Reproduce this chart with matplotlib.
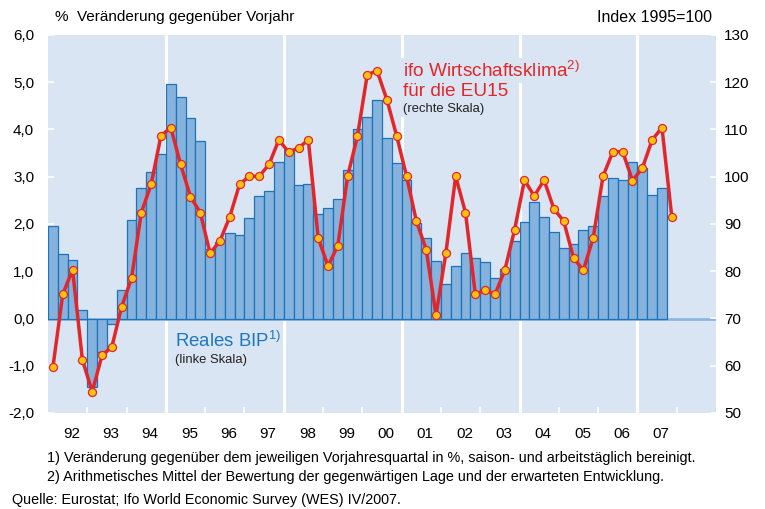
import numpy as np
import matplotlib
matplotlib.use("Agg")
import matplotlib.pyplot as plt

plt.rcParams['font.family'] = ['Liberation Sans', 'DejaVu Sans']
plt.rcParams['mathtext.fontset'] = 'custom'
plt.rcParams['mathtext.rm'] = 'Liberation Sans'

# ---- data (quarterly, from 1992 Q1) ----
years = ['92', '93', '94', '95', '96', '97', '98', '99',
         '00', '01', '02', '03', '04', '05', '06', '07']

# real GDP, % change vs. same quarter of previous year (left scale), 1992Q1..2007Q3
bip = [1.95, 1.37, 1.23, 0.19,
       -1.45, -0.71, -0.11, 0.60,
       2.09, 2.77, 3.10, 3.48,
       4.97, 4.68, 4.24, 3.76,
       1.47, 1.62, 1.80, 1.76,
       2.12, 2.60, 2.69, 3.32,
       3.58, 2.83, 2.85, 2.22,
       2.33, 2.53, 3.14, 4.02,
       4.27, 4.63, 3.82, 3.29,
       2.94, 2.02, 1.71, 1.21,
       0.73, 1.11, 1.38, 1.28,
       1.20, 0.85, 1.04, 1.63,
       2.05, 2.47, 2.15, 1.83,
       1.49, 1.58, 1.87, 1.95,
       2.59, 2.98, 2.93, 3.32,
       3.19, 2.62, 2.77]

# ifo economic climate EU15, index 1995=100 (right scale), 1992Q1..2007Q4
ifo = [59.7, 75.1, 80.3, 61.3,
       54.5, 62.2, 64.0, 72.5,
       78.5, 92.4, 98.4, 108.7,
       110.4, 102.6, 95.8, 92.4,
       83.8, 86.4, 91.5, 98.4,
       100.1, 100.1, 102.6, 107.8,
       105.2, 106.1, 107.8, 87.1,
       81.1, 85.4, 100.1, 108.6,
       121.6, 122.4, 116.3, 108.6,
       100.1, 90.6, 84.6, 70.7,
       83.8, 100.1, 92.4, 75.1,
       76.0, 75.1, 80.2, 88.8,
       99.3, 95.9, 99.3, 93.2,
       90.6, 82.8, 80.2, 87.1,
       100.1, 105.3, 105.3, 99.2,
       101.8, 107.8, 110.4, 91.5]

left_ticks = [-2, -1, 0, 1, 2, 3, 4, 5, 6]
right_ticks = [50, 60, 70, 80, 90, 100, 110, 120, 130]

# ---- colours ----
bg = '#dae5f3'
bar_fill = '#86b3de'
bar_edge = '#1b73ba'
red = '#e2262a'
yellow = '#ffc20e'
blue_txt = '#1b78c0'

W, H = 765, 509
fig = plt.figure(figsize=(W / 100, H / 100), dpi=100)
x0, x1, y0, y1 = 48, 716, 35, 413
ax = fig.add_axes([x0 / W, 1 - y1 / H, (x1 - x0) / W, (y1 - y0) / H])
ax.set_facecolor(bg)
for s in ax.spines.values():
    s.set_visible(False)

n_q = 17 * 4
ax.set_xlim(0, n_q)
ax.set_ylim(-2, 6)

# white separator lines every three years
for k in range(12, n_q, 12):
    ax.axvline(k, color='white', lw=2.2, zorder=1)

# zero line across the full width
ax.axhline(0, color='#8db6de', lw=2.0, zorder=2)

xb = np.arange(len(bip)) + 0.5
ax.bar(xb, bip, width=1.0, color=bar_fill, edgecolor=bar_edge, linewidth=0.9, zorder=3)

ax2 = ax.twinx()
for s in ax2.spines.values():
    s.set_visible(False)
ax2.set_ylim(50, 130)
xi = np.arange(len(ifo)) + 0.5
ax2.plot(xi, ifo, color=red, lw=2.5, marker='o', markersize=5.8,
         markerfacecolor=yellow, markeredgecolor=red, markeredgewidth=0.9, zorder=5)

# ticks
ax.set_yticks(left_ticks)
ax.set_yticklabels([f'{v:.1f}'.replace('.', ',') for v in left_ticks], fontsize=11)
ax.tick_params(axis='y', direction='in', length=4, width=1.2, color='white', pad=10)
ax2.set_yticks(right_ticks)
ax2.set_yticklabels([str(v) for v in right_ticks], fontsize=11)
ax2.tick_params(axis='y', direction='in', length=4, width=1.2, color='white', pad=6)

ax.set_xticks(np.arange(4, n_q, 4))
ax.set_xticklabels([])
ax.tick_params(axis='x', direction='in', length=4, width=1.2, color='white')
for i, lab in enumerate(years):
    ax.text(4 * i + 2.4, -2.44, lab, ha='center', va='center', fontsize=11)

# series labels (boxes hide the white separators like in the original)
tb = dict(facecolor=bg, edgecolor='none', pad=1.5)
lx = 36.1
ax.text(lx, 5.25, r'ifo Wirtschaftsklima$^{\mathrm{2)}}$', color=red, fontsize=13.7,
        va='center', ha='left', bbox=tb, zorder=6)
ax.text(lx, 4.8, 'für die EU15', color=red, fontsize=13.7,
        va='center', ha='left', bbox=tb, zorder=6)
ax.text(lx, 4.43, '(rechte Skala)', color='#222222', fontsize=9.4,
        va='center', ha='left', bbox=tb, zorder=6)
ax.text(12.9, -0.47, r'Reales BIP$^{\mathrm{1)}}$', color=blue_txt, fontsize=13.4,
        va='center', ha='left', zorder=6)
ax.text(12.9, -0.87, '(linke Skala)', color='#222222', fontsize=9.4,
        va='center', ha='left', zorder=6)

# header and footnotes
fig.text(55 / W, 1 - 17 / H, '%  Veränderung gegenüber Vorjahr', fontsize=11, va='center')
fig.text(712 / W, 1 - 17 / H, 'Index 1995=100', fontsize=11.5, va='center', ha='right')
fig.text(47 / W, 1 - 458 / H,
         '1) Veränderung gegenüber dem jeweiligen Vorjahresquartal in %, saison- und arbeitstäglich bereinigt.',
         fontsize=10.4, va='center')
fig.text(47 / W, 1 - 477 / H,
         '2) Arithmetisches Mittel der Bewertung der gegenwärtigen Lage und der erwarteten Entwicklung.',
         fontsize=10.4, va='center')
fig.text(12 / W, 1 - 500 / H, 'Quelle: Eurostat; Ifo World Economic Survey (WES) IV/2007.',
         fontsize=10.4, va='center')

fig.savefig('out.png', dpi=100)
